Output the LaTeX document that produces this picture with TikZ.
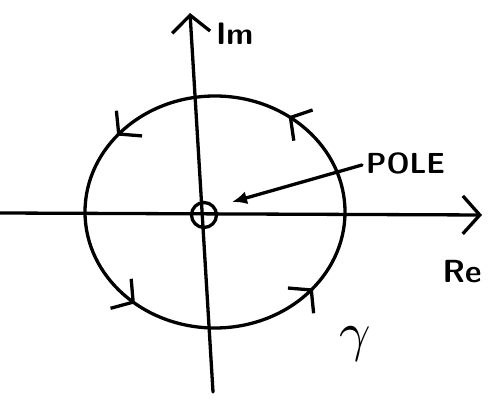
\documentclass[tikz,border=0pt]{standalone}
\usepackage{fontspec}
\usepackage{tikz}
\usetikzlibrary{arrows.meta,decorations.markings,positioning}

\begin{document}
\begin{tikzpicture}[
 x=1pt,y=1pt,
 stroke/.style={line width=3.3pt,line cap=round,line join=round},
 axis/.style={stroke,-{Straight Barb[length=17pt,width=38pt,line width=3.3pt]}},
 lbl/.style={font=\sffamily\bfseries\fontsize{29}{34}\selectfont,inner sep=0pt},
 barb/.tip={Straight Barb[length=15pt,width=36pt,line width=3.3pt]},
 flow/.style={postaction={decorate},decoration={markings,
   mark=at position 0.15 with {\arrow{barb}},
   mark=at position 0.39 with {\arrow{barb}},
   mark=at position 0.64 with {\arrow{barb}},
   mark=at position 0.89 with {\arrow{barb}}}},
 pointer/.style={stroke,-{Latex[length=15pt,width=13pt]}}
]
\useasboundingbox (0,0) rectangle (490,406);
% axes
\coordinate (xstart) at (0,193);
\coordinate (xend) at (482,191);
\coordinate (ystart) at (213,14);
\coordinate (yend) at (190,393);
\draw[axis] (xstart) -- (xend);
\draw[axis] (ystart) -- (yend);
% contour gamma
\coordinate (centre) at (215,194);
\draw[stroke,flow] (centre) ellipse [x radius=130,y radius=116];
% pole
\node[draw,circle,stroke,minimum size=25pt,inner sep=0pt] (pole) at (204,191) {};
\node[lbl,anchor=west] (polelbl) at (366,243) {POLE};
\coordinate (poletip) at (232,204);
\draw[pointer] ([xshift=-4pt,yshift=-2pt]polelbl.west) -- (poletip);
% labels
\node[lbl,font=\sffamily\bfseries\fontsize{31}{36}\selectfont,anchor=west] (im) at (216,372) {Im};
\node[lbl,font=\sffamily\bfseries\fontsize{32}{38}\selectfont] (re) at (462,134) {Re};
\node[scale=5.5,inner sep=0pt] (gam) at (355,62) {$\gamma$};
\end{tikzpicture}
\end{document}
